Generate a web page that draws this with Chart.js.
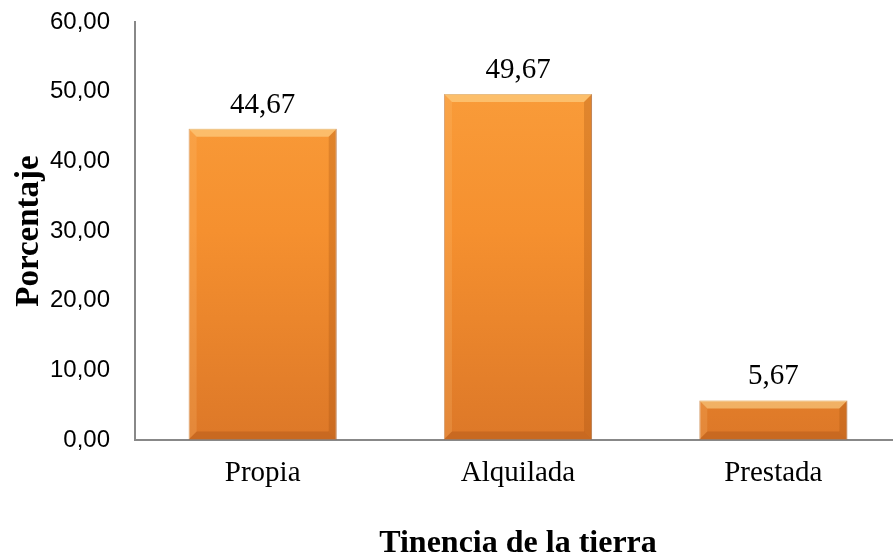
<!DOCTYPE html>
<html>
<head>
<meta charset="utf-8">
<script src="https://cdn.jsdelivr.net/npm/chart.js@4/dist/chart.umd.min.js"></script>
<style>
  html, body { margin: 0; padding: 0; background: #fff; overflow: hidden; }
  #canvas-container { width: 893px; height: 559px; overflow: hidden; }
</style>
</head>
<body>
<div id="canvas-container"><canvas id="chart" width="901" height="559"></canvas></div>
<script>
const categories = ['Propia', 'Alquilada', 'Prestada'];
const porcentajes = [44.67, 49.67, 5.67];
const yTicks = [0, 10, 20, 30, 40, 50, 60];

const fmt = v => v.toFixed(2).replace('.', ',');

// vertical orange gradient for the bars
function barFill(context) {
  const chart = context.chart;
  const area = chart.chartArea;
  if (!area) return '#F79646';
  const g = chart.ctx.createLinearGradient(0, area.top, 0, area.bottom);
  g.addColorStop(0, '#FBA13E');
  g.addColorStop(0.5, '#F5902F');
  g.addColorStop(1, '#DD7828');
  return g;
}

// bevel look + value labels
const barDecor = {
  id: 'barDecor',
  afterDatasetsDraw(chart) {
    const ctx = chart.ctx;
    const meta = chart.getDatasetMeta(0);
    meta.data.forEach((bar, i) => {
      const { x, y, base, width } = bar.getProps(['x', 'y', 'base', 'width'], true);
      const l = x - width / 2, r = x + width / 2;
      const b = 8;
      ctx.save();
      // top highlight
      ctx.fillStyle = 'rgba(255,220,150,0.55)';
      ctx.beginPath();
      ctx.moveTo(l, y); ctx.lineTo(r, y); ctx.lineTo(r - b, y + b); ctx.lineTo(l + b, y + b);
      ctx.closePath(); ctx.fill();
      // right shade
      ctx.fillStyle = 'rgba(150,70,10,0.25)';
      ctx.beginPath();
      ctx.moveTo(r, y); ctx.lineTo(r, base); ctx.lineTo(r - b, base - b); ctx.lineTo(r - b, y + b);
      ctx.closePath(); ctx.fill();
      // left light
      ctx.fillStyle = 'rgba(255,200,130,0.2)';
      ctx.beginPath();
      ctx.moveTo(l, y); ctx.lineTo(l, base); ctx.lineTo(l + b, base - b); ctx.lineTo(l + b, y + b);
      ctx.closePath(); ctx.fill();
      // bottom shade
      ctx.fillStyle = 'rgba(140,60,10,0.25)';
      ctx.beginPath();
      ctx.moveTo(l, base); ctx.lineTo(r, base); ctx.lineTo(r - b, base - b); ctx.lineTo(l + b, base - b);
      ctx.closePath(); ctx.fill();

      // value label
      ctx.fillStyle = '#000';
      ctx.font = '29px "Liberation Serif", "Times New Roman", serif';
      ctx.textAlign = 'center';
      ctx.textBaseline = 'alphabetic';
      ctx.fillText(fmt(porcentajes[i]), x, y - 16);
      ctx.restore();
    });
  }
};

new Chart(document.getElementById('chart').getContext('2d'), {
  type: 'bar',
  data: {
    labels: categories,
    datasets: [{
      data: porcentajes,
      backgroundColor: barFill,
      borderColor: 'rgba(170,85,20,0.6)',
      borderWidth: 1,
      categoryPercentage: 1,
      barPercentage: 0.58
    }]
  },
  options: {
    responsive: false,
    animation: false,
    layout: { padding: { top: 22, right: 0, left: 0, bottom: 0 } },
    plugins: {
      legend: { display: false },
      tooltip: { enabled: false }
    },
    scales: {
      x: {
        grid: { display: false, drawTicks: false },
        border: { display: true, color: '#888', width: 2 },
        ticks: {
          color: '#000',
          padding: 16,
          font: { family: '"Liberation Serif", "Times New Roman", serif', size: 29 }
        },
        title: {
          display: true,
          text: 'Tinencia de la tierra',
          color: '#000',
          font: { family: '"Liberation Serif", "Times New Roman", serif', size: 32, weight: 'bold', lineHeight: 0.95 },
          padding: { top: 0, bottom: 0 }
        },
        afterFit(scale) { scale.height = 119; }
      },
      y: {
        min: 0,
        max: 60,
        afterBuildTicks(scale) { scale.ticks = yTicks.map(v => ({ value: v })); },
        // invisible tick marks give the gap between labels and the axis line
        grid: { display: true, drawOnChartArea: false, drawTicks: true, tickLength: 25, tickColor: 'rgba(0,0,0,0)' },
        border: { display: true, color: '#888', width: 2 },
        ticks: {
          color: '#000',
          padding: 0,
          font: { family: '"Liberation Sans", Arial, sans-serif', size: 24 },
          callback: v => fmt(v)
        },
        title: {
          display: true,
          text: 'Porcentaje',
          color: '#000',
          font: { family: '"Liberation Serif", "Times New Roman", serif', size: 33, weight: 'bold', lineHeight: 1.2 },
          padding: { top: 10, bottom: 0 }
        },
        afterFit(scale) { scale.width = 135; }
      }
    }
  },
  plugins: [barDecor]
});
</script>
</body>
</html>
